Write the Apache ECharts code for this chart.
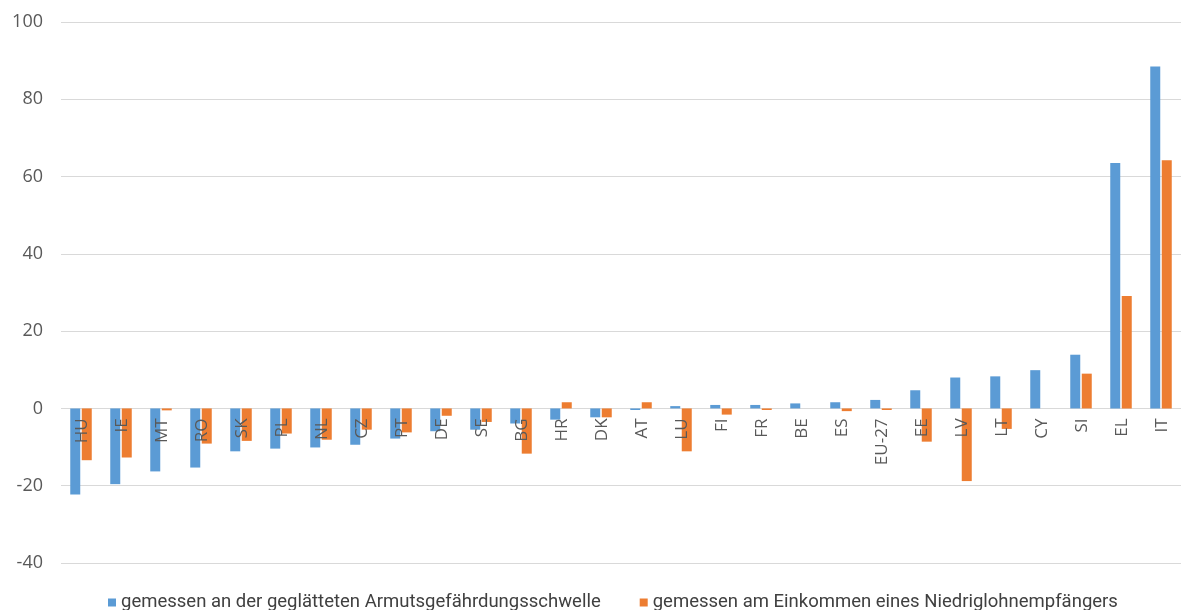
<!DOCTYPE html>
<html>
<head>
<meta charset="utf-8">
<script src="https://cdn.jsdelivr.net/npm/echarts@6/dist/echarts.min.js"></script>
<style>
html,body{margin:0;padding:0;background:#fff;}
#chart{width:1182px;height:610px;}
</style>
</head>
<body>
<div id="chart"></div>
<script>
const categories = ['HU','IE','MT','RO','SK','PL','NL','CZ','PT','DE','SE','BG','HR','DK','AT','LU','FI','FR','BE','ES','EU-27','EE','LV','LT','CY','SI','EL','IT'];
const seriesNames = ['gemessen an der geglätteten Armutsgefährdungsschwelle','gemessen am Einkommen eines Niedriglohnempfängers'];
const armutsValues = [-22.3,-19.6,-16.3,-15.3,-11.1,-10.4,-10.1,-9.4,-7.8,-5.9,-5.5,-3.9,-2.9,-2.3,-0.4,0.6,0.9,0.9,1.3,1.6,2.2,4.7,8.0,8.3,9.9,13.9,63.5,88.5];
const niedriglohnValues = [-13.4,-12.7,-0.5,-9.1,-8.4,-6.5,-8.1,-5.5,-6.2,-1.9,-3.5,-11.7,1.6,-2.3,1.6,-11.1,-1.6,-0.4,0,-0.7,-0.4,-8.6,-18.8,-5.3,0,9.0,29.1,64.2];
const yMin = -40, yMax = 100, yInterval = 20;

const labelFont = '17px "Open Sans", sans-serif';

const chart = echarts.init(document.getElementById('chart'), null, {renderer:'canvas'});
chart.setOption({
  animation:false,
  backgroundColor:'#ffffff',
  color:['#5B9BD5','#ED7D31'],
  grid:{left:61,right:1,top:22,bottom:47,containLabel:false,outerBoundsMode:'none'},
  legend:{
    left:103, top:588,
    itemWidth:8, itemHeight:8, itemGap:39,
    icon:'rect',
    textStyle:{fontFamily:'Liberation Sans Narrow, Roboto, sans-serif',fontSize:18.5,color:'#404040'},
    data:seriesNames
  },
  xAxis:{
    type:'category',
    data:categories,
    axisLine:{show:false},
    axisTick:{show:false},
    axisLabel:{show:false}
  },
  yAxis:{
    type:'value',
    min:yMin,max:yMax,interval:yInterval,
    axisLine:{show:false},
    axisTick:{show:false},
    axisLabel:{margin:18,fontFamily:'Open Sans, sans-serif',fontSize:18,color:'#595959'},
    splitLine:{lineStyle:{color:'#d9d9d9',width:1}}
  },
  series:[
    {name:seriesNames[0],type:'bar',data:armutsValues,barWidth:10,barGap:'15%'},
    {name:seriesNames[1],type:'bar',data:niedriglohnValues,barWidth:10,barGap:'15%'},
    {
      name:'labels',type:'custom',
      data:categories.map((c,i)=>[i,0]),
      z:10,silent:true,
      renderItem:function(params,api){
        const p = api.coord([api.value(0),0]);
        return {
          type:'text',
          x:p[0]+1, y:p[1]+10,
          rotation:Math.PI/2,
          style:{
            text:categories[params.dataIndex],
            font:labelFont,
            fill:'#595959',
            align:'right',
            verticalAlign:'middle'
          }
        };
      }
    }
  ]
});
</script>
</body>
</html>
